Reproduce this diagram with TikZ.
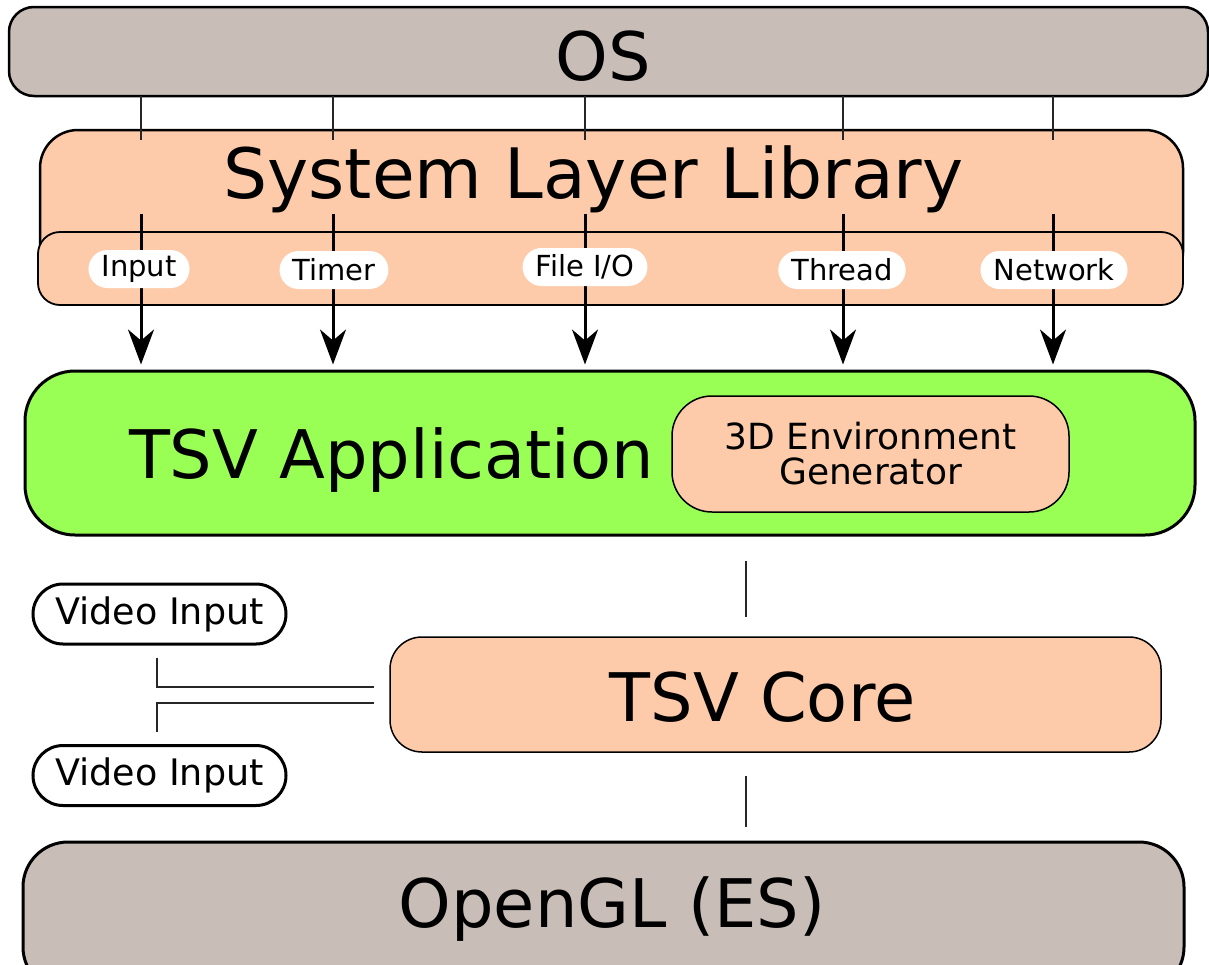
\documentclass[tikz,border=0pt]{standalone}
\usepackage{fontspec}
\setmainfont{DejaVu Sans}
\usetikzlibrary{arrows.meta,calc}
\definecolor{greyfill}{HTML}{C8BEB7}
\definecolor{peach}{HTML}{FDCBA9}
\definecolor{appgreen}{HTML}{99FF55}
\tikzset{
  box/.style={draw=black, rectangle, inner sep=0pt},
  big/.style={font=\fontsize{67}{70}\selectfont, inner sep=0pt},
  pill/.style={fill=white, rectangle, rounded corners=19pt, minimum height=38pt, inner xsep=13pt, inner ysep=0pt, font=\fontsize{29}{31}\selectfont},
  vid/.style={box, fill=white, line width=3pt, rounded corners=30pt, minimum width=253pt, minimum height=60pt, font=\fontsize{36.5}{38}\selectfont},
  thinline/.style={line width=1.2pt, black!85},
  arr/.style={line width=3pt, -{Stealth[length=35pt, width=26pt, inset=11pt]}},
}
\begin{document}
\begin{tikzpicture}[x=1pt, y=-1pt]
\useasboundingbox (0,0) rectangle (1209,964);
\clip (0,0) rectangle (1209,964);
% OS
\node[box, fill=greyfill, line width=2.5pt, rounded corners=25pt, minimum width=1199pt, minimum height=89pt] (os) at (608.5,51.5) {};
\node[big, anchor=base] (ost) at (603,80) {OS};
% System layer library
\node[box, fill=peach, line width=2.5pt, rounded corners=38pt, minimum width=1143pt, minimum height=160pt] (sll) at (611.5,210) {};
\node[big, anchor=base, font=\fontsize{69.5}{72}\selectfont] (sllt) at (593.5,198) {System Layer Library};
\node[box, fill=peach, line width=1.8pt, rounded corners=22pt, minimum width=1145pt, minimum height=73pt] (slli) at (610.5,268.5) {};
% TSV Application
\node[box, fill=appgreen, line width=3pt, rounded corners=50pt, minimum width=1170pt, minimum height=164pt] (app) at (610,453) {};
\node[big, anchor=base] (appt) at (391.5,478) {TSV Application};
\node[box, fill=peach, line width=1.5pt, rounded corners=40pt, minimum width=397pt, minimum height=116pt, align=center, font=\fontsize{36}{35}\selectfont] (env) at (870.5,454) {3D Environment\\Generator};
% TSV Core
\node[box, fill=peach, line width=1.5pt, rounded corners=32pt, minimum width=771pt, minimum height=115pt] (core) at (775.5,694.5) {};
\node[big, anchor=base] (coret) at (762.5,721) {TSV Core};
% OpenGL
\node[box, fill=greyfill, line width=3pt, rounded corners=45pt, minimum width=1161pt, minimum height=150pt] (gl) at (603.5,917) {};
\node[big, anchor=base] (glt) at (612,927) {OpenGL (ES)};
% Video inputs
\node[vid] (vid1) at (159.5,614) {Video Input\hspace{10pt}};
\node[vid] (vid2) at (159.5,775.5) {Video Input\hspace{2pt}};
% OS -> SLL thin lines and arrows
\foreach \n/\x in {a/141, b/333, c/585, d/843, e/1053}{
  \coordinate (\n top) at (\x,96);
  \coordinate (\n in) at (\x,140);
  \coordinate (\n s) at (\x,214);
  \draw[thinline] (\n top) -- (\n in);
  \draw[arr, shorten >=5pt] (\n s) -- (\n s |- app.north);
}
\node[pill] (lin) at (139,269) {Input};
\node[pill] (ltm) at (334,270) {Timer};
\node[pill] (lfi) at (585,267) {File I/O};
\node[pill] (lth) at (842,270) {Thread};
\node[pill] (lnw) at (1054,270) {Network};
% App - Core - GL
\coordinate (m1) at (746,561);
\draw[thinline] (m1) -- ($(m1 |- core.north)+(0,-19)$);
\coordinate (m2) at (746,776);
\draw[thinline] (m2) -- ($(m2 |- gl.north)+(0,-14)$);
% Video lines
\draw[thinline] ($(vid1.south)+(-2.5,12)$) |- ($(core.west)+(-15,-7.5)$);
\draw[thinline] ($(vid2.north)+(-2.5,-12)$) |- ($(core.west)+(-15,8.5)$);
\end{tikzpicture}
\end{document}
